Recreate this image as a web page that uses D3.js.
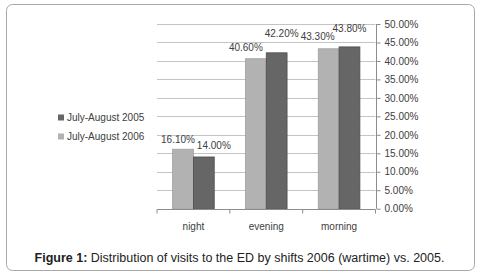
<!DOCTYPE html>
<html>
<head>
<meta charset="utf-8">
<script src="https://cdn.jsdelivr.net/npm/d3@7"></script>
<style>
  body { margin: 0; background: #fff; }
  svg { display: block; font-family: "Liberation Sans", Arial, sans-serif; }
</style>
</head>
<body>
<div id="chart"></div>
<script>
const shifts = ["night", "evening", "morning"];
const seriesNames = ["July-August 2006", "July-August 2005"];
const visits2006 = [16.1, 40.6, 43.3];
const visits2005 = [14.0, 42.2, 43.8];
const yTicks = [0, 5, 10, 15, 20, 25, 30, 35, 40, 45, 50];

// label nudges (the original has hand-placed labels)
const labelDx = [[-5, -10, -11], [10, 5, 0]];
const labelDy = [[-10, -11, -12], [-11, -19, -18]];

const width = 480, height = 277;
const plot = { left: 157, right: 375.5, top: 24, bottom: 208.7 };
const colors = ["#b2b2b2", "#666666"];
const strokes = ["#a0a0a0", "#4d4d4d"];

const svg = d3.select("#chart")
    .append("svg")
    .attr("width", width)
    .attr("height", height);

// frame
svg.append("rect")
    .attr("x", 6.5).attr("y", 4.5)
    .attr("width", 468).attr("height", 266)
    .attr("rx", 6)
    .attr("fill", "#fff")
    .attr("stroke", "#a8a8a8");

const xScale = d3.scaleBand()
    .domain(shifts)
    .range([plot.left, plot.right])
    .paddingInner(0)
    .paddingOuter(0);

const xInner = d3.scaleBand()
    .domain([0, 1])
    .range([0, xScale.bandwidth()])
    .paddingOuter(0.75)
    .paddingInner(0);

const yScale = d3.scaleLinear()
    .domain([0, 50])
    .range([plot.bottom, plot.top]);

// grid first
svg.append("g")
    .selectAll("line")
    .data(yTicks.filter(d => d > 0))
    .join("line")
    .attr("x1", plot.left)
    .attr("x2", plot.right)
    .attr("y1", d => Math.round(yScale(d)) + 0.5)
    .attr("y2", d => Math.round(yScale(d)) + 0.5)
    .attr("stroke", "#c4c4c4")
    .attr("stroke-width", 1);

// bars
const allSeries = [visits2006, visits2005];
allSeries.forEach((vals, s) => {
    svg.append("g")
        .selectAll("rect")
        .data(vals)
        .join("rect")
        .attr("x", (d, i) => xScale(shifts[i]) + xInner(s))
        .attr("y", d => yScale(d))
        .attr("width", xInner.bandwidth())
        .attr("height", d => plot.bottom - yScale(d))
        .attr("fill", colors[s])
        .attr("stroke", strokes[s])
        .attr("stroke-width", 0.8);

    svg.append("g")
        .selectAll("text")
        .data(vals)
        .join("text")
        .attr("x", (d, i) => xScale(shifts[i]) + xInner(s) + xInner.bandwidth() / 2 + labelDx[s][i])
        .attr("y", (d, i) => yScale(d) + labelDy[s][i])
        .attr("dy", "0.35em")
        .attr("text-anchor", "middle")
        .attr("font-size", 10)
        .attr("fill", "#404040")
        .text(d => d3.format(".2f")(d) + "%");
});

// right axis
const rightAxis = d3.axisRight(yScale)
    .tickValues(yTicks)
    .tickSize(4)
    .tickPadding(4)
    .tickFormat(d => d3.format(".2f")(d) + "%");

const yAxis = svg.append("g")
    .attr("transform", `translate(${Math.round(plot.right) + 0.5}, 0)`)
    .call(rightAxis);
yAxis.select(".domain").attr("stroke", "#8c8c8c").attr("d", `M0,${plot.top}V${plot.bottom}`);
yAxis.selectAll(".tick line").attr("stroke", "#8c8c8c");
yAxis.selectAll(".tick text")
    .attr("font-size", 10)
    .attr("font-family", "Liberation Sans, Arial, sans-serif")
    .attr("fill", "#404040");

// bottom axis
const bottomAxis = d3.axisBottom(xScale)
    .tickSize(0)
    .tickPadding(13);

const xAxis = svg.append("g")
    .attr("transform", `translate(0, ${Math.round(plot.bottom) + 0.5})`)
    .call(bottomAxis);
xAxis.select(".domain").attr("stroke", "#8c8c8c").attr("d", `M${plot.left},0H${plot.right}`);
xAxis.selectAll(".tick text")
    .attr("font-size", 10)
    .attr("font-family", "Liberation Sans, Arial, sans-serif")
    .attr("fill", "#404040");

// category separators
svg.append("g")
    .selectAll("line")
    .data(shifts.concat(["end"]))
    .join("line")
    .attr("x1", (d, i) => i < shifts.length ? xScale(d) : plot.right)
    .attr("x2", (d, i) => i < shifts.length ? xScale(d) : plot.right)
    .attr("y1", Math.round(plot.bottom) + 0.5)
    .attr("y2", Math.round(plot.bottom) + 4.5)
    .attr("stroke", "#8c8c8c");

// legend (2005 on top)
const legendOrder = [1, 0];
const legend = svg.append("g")
    .selectAll("g")
    .data(legendOrder)
    .join("g")
    .attr("transform", (d, i) => `translate(58, ${117.5 + i * 19})`);

legend.append("rect")
    .attr("x", 0).attr("y", -3)
    .attr("width", 6).attr("height", 6)
    .attr("fill", d => colors[d]);

legend.append("text")
    .attr("x", 9)
    .attr("dy", "0.35em")
    .attr("font-size", 10)
    .attr("fill", "#404040")
    .text(d => seriesNames[d]);

// caption
const caption = svg.append("text")
    .attr("x", 239.5)
    .attr("y", 262)
    .attr("text-anchor", "middle")
    .attr("font-size", 12.5)
    .attr("fill", "#222");
caption.append("tspan").attr("font-weight", "bold").text("Figure 1:");
caption.append("tspan").text(" Distribution of visits to the ED by shifts 2006 (wartime) vs. 2005.");
</script>
</body>
</html>
